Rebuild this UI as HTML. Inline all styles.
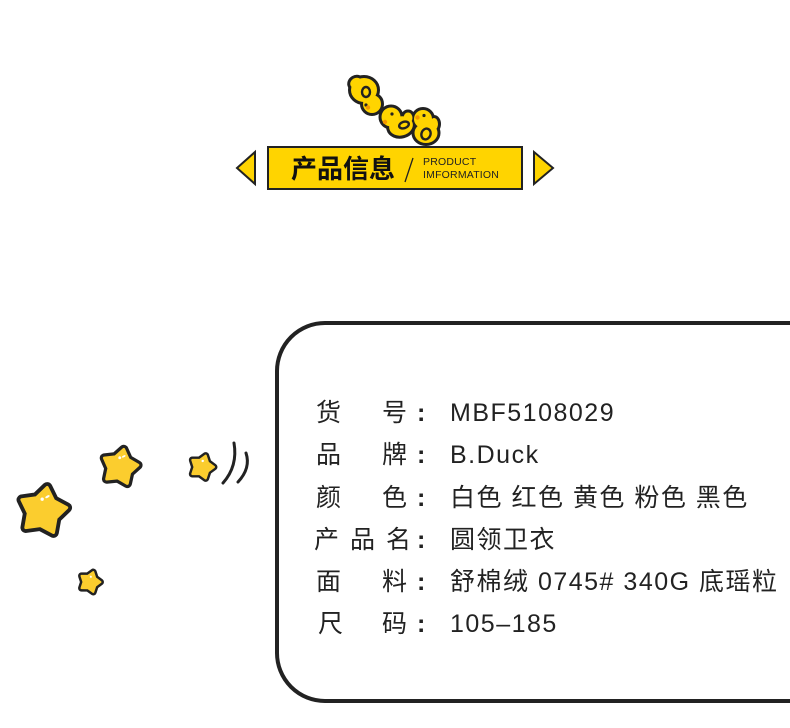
<!DOCTYPE html>
<html>
<head>
<meta charset="utf-8">
<style>
html,body{margin:0;padding:0;background:#fff;}
body{width:790px;height:728px;position:relative;overflow:hidden;font-family:"Liberation Sans","Noto Sans CJK SC",sans-serif;color:#222;}
.box{position:absolute;left:275px;top:321px;width:700px;height:382px;box-sizing:border-box;border:4px solid #222;border-radius:50px;}
.row{position:absolute;left:0;height:42px;line-height:42px;font-size:25px;width:790px;}
.row span{position:absolute;top:0;white-space:nowrap;}
.val{left:450px;letter-spacing:1.5px;}
.col{left:417px;font-weight:bold;}
.title{position:absolute;left:291px;top:156px;font-size:26px;line-height:26px;font-weight:bold;color:#111;white-space:nowrap;}
.en{position:absolute;left:423px;font-size:10.5px;line-height:13px;color:#222;letter-spacing:0.2px;white-space:nowrap;}
</style>
</head>
<body>
<svg width="790" height="728" style="position:absolute;left:0;top:0" xmlns="http://www.w3.org/2000/svg">
  <defs>
    <polygon id="st" points="0,-100 36.4,-50.2 95.1,-30.9 59,19.2 58.8,80.9 0,62 -58.8,80.9 -59,19.2 -95.1,-30.9 -36.4,-50.2"/>
    <g id="duckshapes">
      <ellipse cx="364" cy="90" rx="13" ry="12"/>
      <ellipse cx="356" cy="83" rx="6" ry="5" transform="rotate(-30 356 83)"/>
      <circle cx="372" cy="104" r="9"/>
      <circle cx="391" cy="117" r="9.5"/>
      <ellipse cx="401" cy="126" rx="12" ry="9.5" transform="rotate(-15 401 126)"/>
      <ellipse cx="408" cy="118" rx="4.5" ry="5.5"/>
      <circle cx="423" cy="119" r="9"/>
      <ellipse cx="426" cy="133" rx="11.5" ry="10"/>
      <ellipse cx="434" cy="124" rx="4" ry="6"/>
    </g>
  </defs>

  <!-- banner -->
  <rect x="268" y="147" width="254" height="42" fill="#FFD400" stroke="#222" stroke-width="2"/>
  <polygon points="255,152 255,184 237,168" fill="#FFD400" stroke="#222" stroke-width="2"/>
  <polygon points="534,152 534,184 553,168" fill="#FFD400" stroke="#222" stroke-width="2"/>
  <line x1="413" y1="158" x2="405" y2="182" stroke="#222" stroke-width="1.3"/>

  <!-- ducks -->
  <use href="#duckshapes" fill="#222" stroke="#222" stroke-width="6"/>
  <use href="#duckshapes" fill="#FFD400"/>
  <g fill="none" stroke="#222" stroke-width="2.4">
    <ellipse cx="366" cy="92" rx="4" ry="5"/>
    <ellipse cx="404" cy="125" rx="5" ry="3.2" transform="rotate(-20 404 125)"/>
    <ellipse cx="426" cy="134" rx="4.5" ry="5.5" transform="rotate(20 426 134)"/>
  </g>
  <g fill="#222">
    <circle cx="366" cy="105" r="1.6"/>
    <circle cx="392" cy="114" r="1.6"/>
    <circle cx="424" cy="115.5" r="1.6"/>
  </g>
  <g fill="#F39800">
    <circle cx="368" cy="107.5" r="2.2"/>
    <circle cx="385" cy="122" r="2.2"/>
    <circle cx="417.5" cy="117.5" r="2.2"/>
  </g>

  <!-- stars -->
  <g transform="translate(43,511) rotate(10) scale(0.24)">
    <use href="#st" fill="#222" stroke="#222" stroke-width="44" stroke-linejoin="round"/>
    <use href="#st" fill="#FBCD2E" stroke="#FBCD2E" stroke-width="12" stroke-linejoin="round"/>
    <ellipse cx="-12" cy="-48" rx="7" ry="7" fill="#fff"/>
    <ellipse cx="8" cy="-62" rx="10" ry="4.5" fill="#fff" transform="rotate(-40 8 -62)"/>
  </g>
  <g transform="translate(120,467) rotate(12) scale(0.18)">
    <use href="#st" fill="#222" stroke="#222" stroke-width="52" stroke-linejoin="round"/>
    <use href="#st" fill="#FBCD2E" stroke="#FBCD2E" stroke-width="16" stroke-linejoin="round"/>
    <ellipse cx="-12" cy="-50" rx="8" ry="8" fill="#fff"/>
    <ellipse cx="8" cy="-62" rx="11" ry="5" fill="#fff" transform="rotate(-40 8 -62)"/>
  </g>
  <g transform="translate(90,582) rotate(18) scale(0.105)">
    <use href="#st" fill="#222" stroke="#222" stroke-width="66" stroke-linejoin="round"/>
    <use href="#st" fill="#FBCD2E" stroke="#FBCD2E" stroke-width="19" stroke-linejoin="round"/>
    <ellipse cx="-8" cy="-50" rx="10" ry="10" fill="#fff"/>
  </g>
  <g transform="translate(202,467) rotate(18) scale(0.12)">
    <use href="#st" fill="#222" stroke="#222" stroke-width="58" stroke-linejoin="round"/>
    <use href="#st" fill="#FBCD2E" stroke="#FBCD2E" stroke-width="17" stroke-linejoin="round"/>
    <ellipse cx="-10" cy="-50" rx="10" ry="10" fill="#fff"/>
  </g>
  <g fill="none" stroke="#222" stroke-width="3" stroke-linecap="round">
    <path d="M223,483 Q238,466 234,443"/>
    <path d="M238,482 Q251,468 246,453"/>
  </g>
</svg>

<div class="title">产品信息</div>
<div class="en" style="top:156px;">PRODUCT</div>
<div class="en" style="top:169px;">IMFORMATION</div>

<div class="box"></div>

<div class="row" style="top:392px;"><span style="left:316px">货</span><span style="left:382px">号</span><span class="col">:</span><span class="val">MBF5108029</span></div>
<div class="row" style="top:434px;"><span style="left:316px">品</span><span style="left:382px">牌</span><span class="col">:</span><span class="val">B.Duck</span></div>
<div class="row" style="top:477px;"><span style="left:316px">颜</span><span style="left:382px">色</span><span class="col">:</span><span class="val">白色 红色 黄色 粉色 黑色</span></div>
<div class="row" style="top:519px;"><span style="left:314px">产</span><span style="left:350px">品</span><span style="left:386px">名</span><span class="col">:</span><span class="val">圆领卫衣</span></div>
<div class="row" style="top:561px;"><span style="left:316px">面</span><span style="left:382px">料</span><span class="col">:</span><span class="val">舒棉绒 0745# 340G 底瑶粒</span></div>
<div class="row" style="top:603px;"><span style="left:318px">尺</span><span style="left:382px">码</span><span class="col">:</span><span class="val">105–185</span></div>
</body>
</html>
